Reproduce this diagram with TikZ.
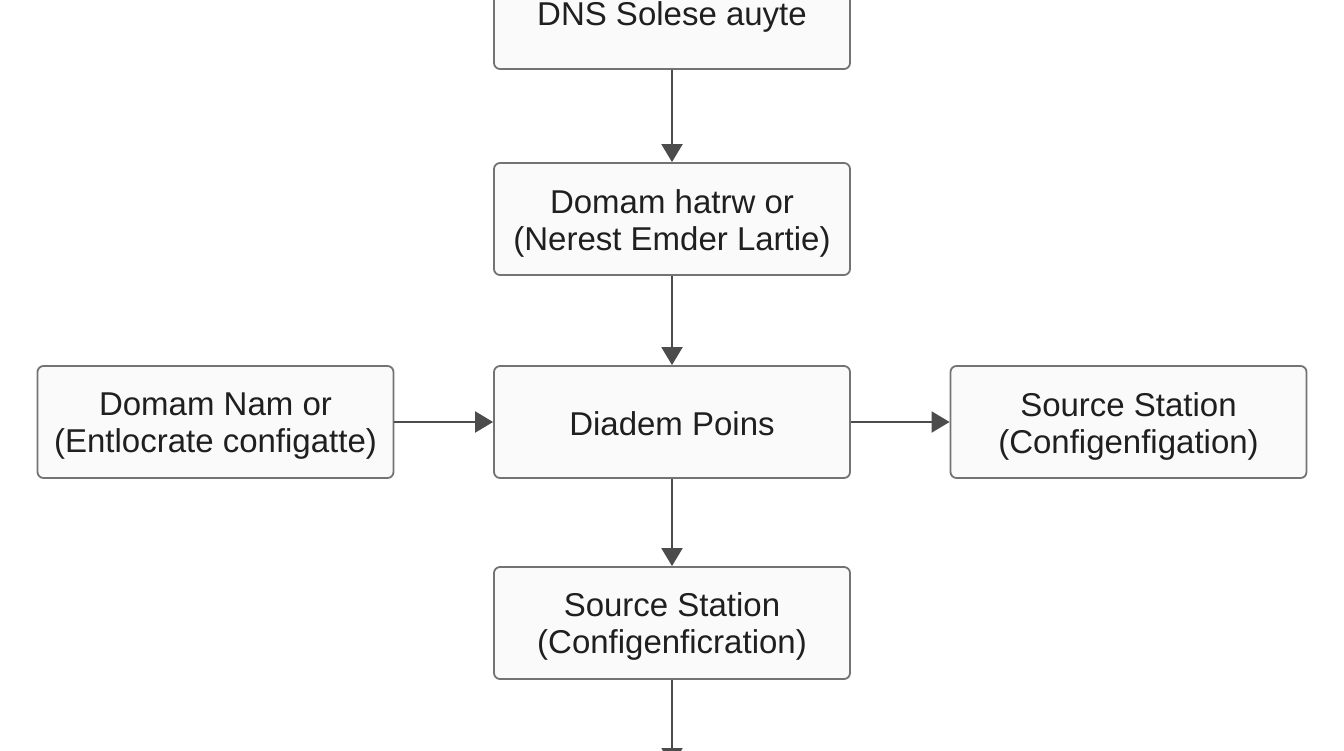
\documentclass[tikz,border=0pt]{standalone}
\usepackage{fontspec}
\setmainfont{Liberation Sans}
\usetikzlibrary{arrows.meta}
\begin{document}
\begin{tikzpicture}[x=1pt,y=-1pt,
  box/.style={draw=black!55,line width=1.8pt,fill=black!2,rounded corners=6pt,
    minimum width=356pt,minimum height=112pt,inner sep=0pt},
  txt/.style={align=center,inner sep=0pt,font=\fontsize{33}{37}\selectfont,text=black!88},
  conn/.style={draw=black!70,line width=2pt,-{Triangle[length=18pt,width=21pt]}}]
\clip (0,0) rectangle (1344,750);
\fill[white] (0,0) rectangle (1344,750);
\node[box,minimum height=106pt] (dns) at (672,16) {};
\node[box] (dom) at (672,219) {};
\node[box] (dia) at (672,422) {};
\node[box] (left) at (215.5,422) {};
\node[box] (right) at (1128.5,422) {};
\node[box] (src) at (672,623) {};
\node[txt] (dnst) at ([yshift=-1pt]dns.center) {DNS Solese auyte};
\node[txt] (domt) at ([yshift=-4pt]dom.center) {Domam hatrw or\\(Nerest Emder Lartie)};
\node[txt] (diat) at ([yshift=-1.5pt]dia.center) {Diadem Poins};
\node[txt] (leftt) at ([yshift=-4pt]left.center) {Domam Nam or\\(Entlocrate configatte)};
\node[txt] (rightt) at ([yshift=-4pt]right.center) {Source Station\\(Configenfigation)};
\node[txt] (srct) at ([yshift=-3.5pt]src.center) {Source Station\\(Configenficration)};
\coordinate (out) at (672,766);
\draw[conn] (dns) -- (dom);
\draw[conn] (dom) -- (dia);
\draw[conn] (left) -- (dia);
\draw[conn] (dia) -- (right);
\draw[conn] (dia) -- (src);
\draw[conn] (src) -- (out);
\end{tikzpicture}
\end{document}
